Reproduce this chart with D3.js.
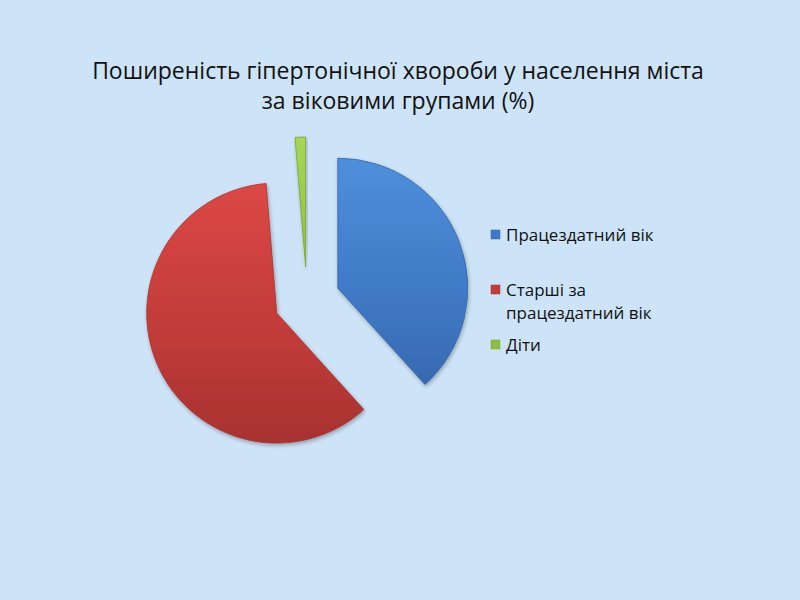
<!DOCTYPE html>
<html>
<head>
<meta charset="utf-8">
<script src="https://cdn.jsdelivr.net/npm/d3@7"></script>
<style>
  body { margin: 0; background: #cde4f8; }
  svg { display: block; }
</style>
</head>
<body>
<svg id="chart" width="800" height="600"></svg>
<script>
`use strict`;

const titleLines = [`Поширеність гіпертонічної хвороби у населення міста`, `за віковими групами (%)`];
const categories = [`Працездатний вік`, `Старші за працездатний вік`, `Діти`];
const legendLines = [[`Працездатний вік`], [`Старші за`, `працездатний вік`], [`Діти`]];
const values = [38.3, 60.4, 1.3];
const colors = [[`#4f8fdc`, `#3f78c4`, `#3364a8`], [`#dc4845`, `#c23c3a`, `#a83230`], [`#a6d658`, `#8dbf3c`, `#76a52e`]];

(function () {

  const svg = d3.select(`#chart`);

  const W = 800, H = 600;

  svg.append(`rect`).attr(`width`, W).attr(`height`, H).attr(`fill`, `#cde4f8`);

  const defs = svg.append(`defs`);

  const cx = 307, cy = 300, R = 130, explode = 33;

  colors.forEach((c, i) => {
    let g = defs.append(`linearGradient`)
      .attr(`id`, `grad${i}`)
      .attr(`gradientUnits`, `userSpaceOnUse`)
      .attr(`x1`, 0).attr(`y1`, -R).attr(`x2`, 0).attr(`y2`, R);
    g.append(`stop`).attr(`offset`, `0%`).attr(`stop-color`, c[0]);
    g.append(`stop`).attr(`offset`, `55%`).attr(`stop-color`, c[1]);
    g.append(`stop`).attr(`offset`, `100%`).attr(`stop-color`, c[2]);
  });

  let sh = defs.append(`filter`).attr(`id`, `shadow`).attr(`x`, `-20%`).attr(`y`, `-20%`).attr(`width`, `140%`).attr(`height`, `140%`);
  sh.append(`feGaussianBlur`).attr(`in`, `SourceAlpha`).attr(`stdDeviation`, 2).attr(`result`, `b`);
  sh.append(`feOffset`).attr(`in`, `b`).attr(`dx`, 1).attr(`dy`, 2).attr(`result`, `o`);
  sh.append(`feComponentTransfer`).attr(`in`, `o`).attr(`result`, `s`)
    .append(`feFuncA`).attr(`type`, `linear`).attr(`slope`, 0.3);
  let mg = sh.append(`feMerge`);
  mg.append(`feMergeNode`).attr(`in`, `s`);
  mg.append(`feMergeNode`).attr(`in`, `SourceGraphic`);

  // title
  svg.append(`g`).selectAll(`text`).data(titleLines)
    .enter()
    .append(`text`)
    .attr(`x`, 398)
    .attr(`y`, (d, i) => 79 + i * 30)
    .attr(`text-anchor`, `middle`)
    .style(`font-family`, `"Open Sans", "Noto Sans", sans-serif`)
    .style(`font-size`, `23px`)
    .style(`fill`, `#111`)
    .text(d => d);

  // pie
  const pie = d3.pie().sort(null).value(d => d);
  const arc = d3.arc().innerRadius(0).outerRadius(R);
  const arcs = pie(values);

  const pieG = svg.append(`g`).attr(`transform`, `translate(${cx},${cy})`);

  pieG.selectAll(`path`).data(arcs)
    .enter()
    .append(`path`)
    .attr(`transform`, d => {
      let a = (d.startAngle + d.endAngle) / 2;
      return `translate(${Math.sin(a) * explode},${-Math.cos(a) * explode})`;
    })
    .attr(`d`, arc)
    .attr(`fill`, (d, i) => `url(#grad${i})`)
    .attr(`stroke`, (d, i) => colors[i][2])
    .attr(`stroke-width`, 0.8)
    .attr(`filter`, `url(#shadow)`);

  // legend
  const lg = svg.append(`g`).attr(`transform`, `translate(491,0)`);
  const rowY = [235, 290, 345];

  categories.forEach((c, i) => {
    lg.append(`rect`)
      .attr(`x`, 0).attr(`y`, rowY[i] - 5)
      .attr(`width`, 9).attr(`height`, 9)
      .attr(`fill`, colors[i][1])
      .attr(`stroke`, colors[i][2])
      .attr(`stroke-width`, 0.5);

    lg.append(`text`)
      .attr(`x`, 15)
      .attr(`y`, rowY[i] + 6)
      .style(`font-family`, `"Open Sans", "Noto Sans", sans-serif`)
      .style(`font-size`, `17px`)
      .style(`fill`, `#111`)
      .selectAll(`tspan`).data(legendLines[i])
      .enter()
      .append(`tspan`)
      .attr(`x`, 15)
      .attr(`dy`, (d, j) => j === 0 ? 0 : 23)
      .text(d => d);
  });
})();
</script>
</body>
</html>
